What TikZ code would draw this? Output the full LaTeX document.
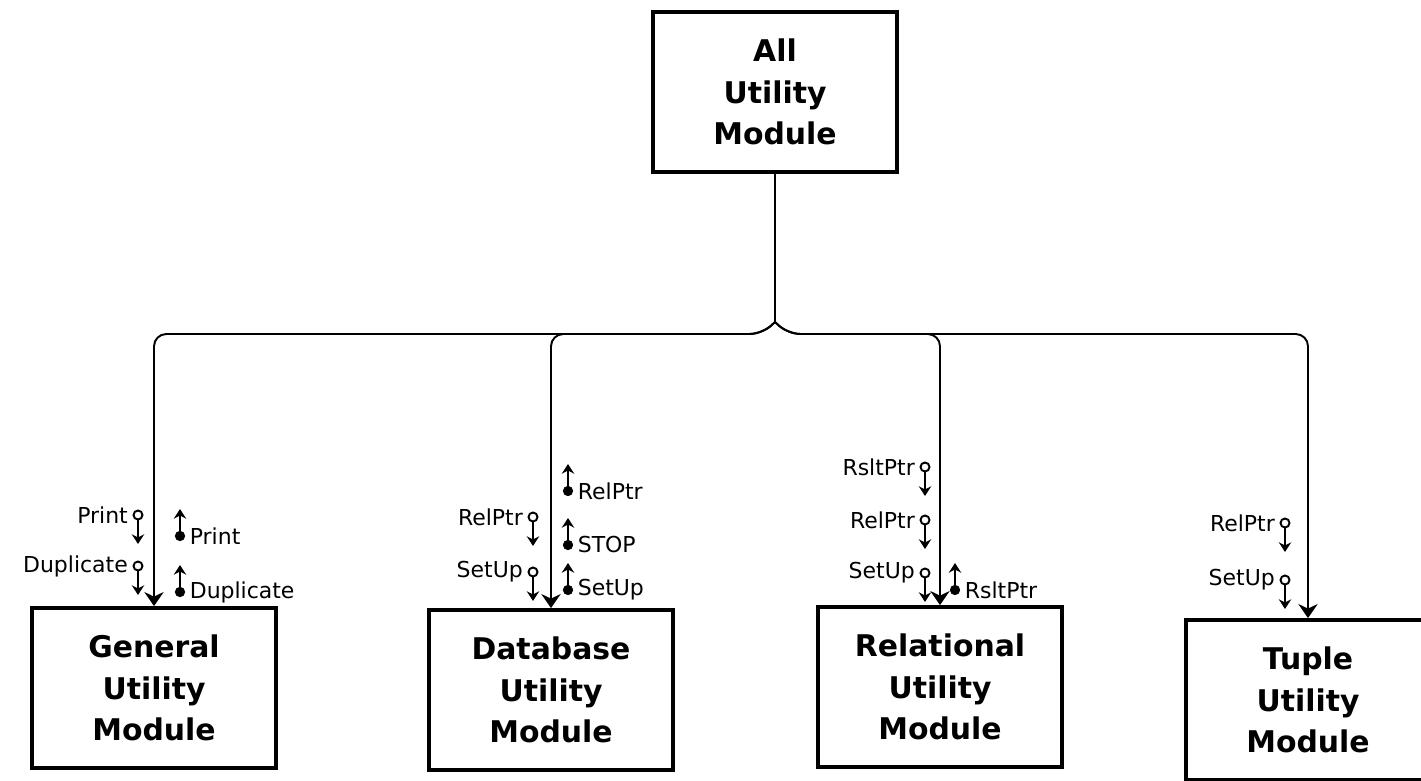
\documentclass[tikz,border=0pt]{standalone}
\usepackage{fontspec}
\setmainfont{DejaVu Sans}
\usepackage{tikz}
\usetikzlibrary{arrows.meta,positioning,calc}

% input parameter: open circle, arrow down
\newcommand{\inparm}[3]{%
  \node[inpin, label={[parlabel]left:#3}] (#1) at (#2) {};
  \coordinate (#1-end) at ($(#1)+(0,29)$);
  \draw[parrow] (#1) -- (#1-end);
}
% output parameter: filled dot, arrow up
\newcommand{\outparm}[3]{%
  \node[outpin, label={[parlabel]right:#3}] (#1) at (#2) {};
  \coordinate (#1-end) at ($(#1)+(0,-27)$);
  \draw[parrow] (#1) -- (#1-end);
}

\begin{document}
\begin{tikzpicture}[x=0.02cm, y=-0.02cm,
        module/.style={draw, line width=2.2pt, minimum width=4.88cm, minimum height=3.2cm, align=center, font=\fontsize{17}{23.5}\selectfont\bfseries},
        link/.style={-{Stealth[length=8pt, width=11pt]}, line width=1.1pt, rounded corners=7pt},
        inpin/.style={circle, draw, line width=1.1pt, fill=white, inner sep=0pt, minimum size=0.18cm},
        outpin/.style={circle, draw, fill=black, inner sep=0pt, minimum size=0.19cm},
        parrow/.style={-{Stealth[length=5.5pt, width=7pt]}, line width=1.3pt},
        parlabel/.style={font=\fontsize{12.5}{14}\selectfont, inner sep=2.5pt}
    ]
    \useasboundingbox (0,0) rectangle (1421,781);

    % Modules
    \node[module] (all) at (775,92) {All\\Utility\\Module};
    \node[module] (general) at (154,688) {General\\Utility\\Module};
    \node[module] (database) at (551,690) {Database\\Utility\\Module};
    \node[module] (relational) at (940,687) {Relational\\Utility\\Module};
    \node[module] (tuple) at (1308,700) {Tuple\\Utility\\Module};

    % Bus
    \coordinate (hub) at (775,322);
    \coordinate (busL) at (762,334);
    \coordinate (busR) at (788,334);
    \draw[line width=1.1pt] (all.south) -- (hub);
    \draw[link] (hub) -- (busL) -| (general.north);
    \draw[link] (hub) -- (busL) -| (database.north);
    \draw[link] (hub) -- (busR) -| (relational.north);
    \draw[link] (hub) -- (busR) -| (tuple.north);

    % General
    \inparm{genIn1}{138,515}{Print}
    \inparm{genIn2}{138,566}{Duplicate}
    \outparm{genOut1}{180,536}{Print}
    \outparm{genOut2}{180,592}{Duplicate}

    % Database
    \inparm{dbIn1}{533,517}{RelPtr}
    \inparm{dbIn2}{533,572}{SetUp}
    \outparm{dbOut1}{568,491}{RelPtr}
    \outparm{dbOut2}{568,545}{STOP}
    \outparm{dbOut3}{568,590}{SetUp}

    % Relational
    \inparm{relIn1}{925,467}{RsltPtr}
    \inparm{relIn2}{925,520}{RelPtr}
    \inparm{relIn3}{925,573}{SetUp}
    \outparm{relOut1}{955,590}{RsltPtr}

    % Tuple
    \inparm{tupIn1}{1285,523}{RelPtr}
    \inparm{tupIn2}{1285,580}{SetUp}

\end{tikzpicture}
\end{document}
